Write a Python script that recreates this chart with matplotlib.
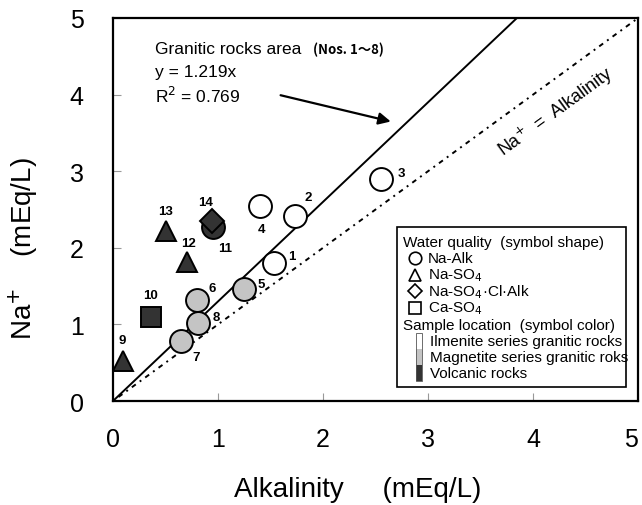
import numpy as np
import matplotlib.pyplot as plt
from matplotlib.patches import Rectangle

plt.rcParams['font.family'] = ['Liberation Sans', 'DejaVu Sans']

# Muestras (Nos. 1-14)
sample_no = [1, 2, 3, 4, 5, 6, 7, 8, 9, 10, 11, 12, 13, 14]
alkalinity = [1.53, 1.73, 2.55, 1.40, 1.25, 0.80, 0.65, 0.81, 0.10, 0.36, 0.95, 0.70, 0.50, 0.94]
sodium = [1.80, 2.42, 2.90, 2.55, 1.46, 1.32, 0.78, 1.02, 0.52, 1.10, 2.27, 1.81, 2.22, 2.35]
shape = ['o', 'o', 'o', 'o', 'o', 'o', 'o', 'o', '^', 's', 'o', '^', '^', 'D']
location = ['ilm', 'ilm', 'ilm', 'ilm', 'mag', 'mag', 'mag', 'mag',
            'vol', 'vol', 'vol', 'vol', 'vol', 'vol']

# recta de regresion (tal como aparece dibujada) y recta 1:1
fit_slope = 1.30
x_line = [0, 5]

colors = {'ilm': 'white', 'mag': '#c4c4c4', 'vol': '#333333'}
sizes = {'o': 16.5, '^': 15, 's': 14.5, 'D': 12}
# desplazamiento de los numeros (pixeles)
label_off = [(18, 7), (13, 19), (21, 6), (1, -23), (17, 5), (15, 12), (15, -16),
             (18, 6), (-1, 21), (0, 22), (12, -21), (2, 19), (0, 20), (-6, 19)]

fig = plt.figure(figsize=(6.42, 5.06), dpi=100)
ax = fig.add_axes([0.176, 0.2055, 0.818, 0.757])

ax.plot(x_line, [fit_slope * v for v in x_line], color='black', lw=1.4, zorder=2)
ax.plot(x_line, x_line, color='black', lw=1.4, ls=(0, (1, 2.5, 2.5, 2.5)), zorder=2)

for i in range(len(sample_no)):
    ax.plot(alkalinity[i], sodium[i], marker=shape[i], ms=sizes[shape[i]],
            mfc=colors[location[i]], mec='black', mew=1.4, ls='none', zorder=3)
    ax.annotate(str(sample_no[i]), (alkalinity[i], sodium[i]), xytext=label_off[i],
                textcoords='offset pixels', ha='center', va='center',
                fontsize=9.5, fontweight='bold', zorder=4)

ax.set_xlim(0, 5)
ax.set_ylim(0, 5)
ax.set_xticks(range(6))
ax.set_yticks(range(6))
ax.tick_params(direction='in', length=6, width=0.8, color='#999999', labelsize=18)
ax.tick_params(axis='x', pad=19)
ax.tick_params(axis='y', pad=21)
ax.get_xticklabels()[-1].set_horizontalalignment('right')
ax.get_xticklabels()[-1].set_x(5.07)
for s in ax.spines.values():
    s.set_linewidth(1.6)

ax.set_xlabel('Alkalinity     (mEq/L)', fontsize=20)
ax.xaxis.set_label_coords(0.465, -0.195)
ax.set_ylabel('Na$^{+}$    (mEq/L)', fontsize=20)
ax.yaxis.set_label_coords(-0.139, 0.40)

# texto de la regresion
ax.text(0.40, 4.6, 'Granitic rocks area', fontsize=12.5, va='center')
ax.text(1.90, 4.6, '(Nos. 1～8)', fontsize=9.5, fontweight='bold', va='center',
        family=['Noto Sans CJK JP', 'DejaVu Sans'])
ax.text(0.40, 4.3, 'y = 1.219x', fontsize=12.5, va='center')
ax.text(0.40, 3.99, 'R$^2$ = 0.769', fontsize=12.5, va='center')
ax.annotate('', xy=(2.67, 3.64), xytext=(1.57, 4.0),
            arrowprops=dict(arrowstyle='-|>', color='black', lw=1.6,
                            mutation_scale=18))
ax.text(4.22, 3.78, 'Na$^{+}$  =  Alkalinity', fontsize=13, rotation=36,
        rotation_mode='anchor', ha='center', va='center')

# leyenda manual
lx0, ly0, lx1, ly1 = 0.541, 0.036, 0.977, 0.455
ax.add_patch(Rectangle((lx0, ly0), lx1 - lx0, ly1 - ly0, transform=ax.transAxes,
                       fc='white', ec='black', lw=1.2, zorder=5))

def ypos(py):
    return (402 - py) / 383

def xpos(px):
    return (px - 113) / 525

ax.text(xpos(403), ypos(243), 'Water quality  (symbol shape)', transform=ax.transAxes,
        fontsize=11, va='center', zorder=6)
legend_rows = [('o', 'Na-Alk', 259, 9),
               ('^', 'Na-SO$_4$', 276, 9),
               ('D', 'Na-SO$_4$·Cl·Alk', 292, 7.5),
               ('s', 'Ca-SO$_4$', 309, 8.5)]
for m, lab, py, ms in legend_rows:
    ax.plot(xpos(415), ypos(py), marker=m, ms=ms, mfc='white', mec='black', mew=1.2,
            transform=ax.transAxes, ls='none', zorder=6, clip_on=False)
    ax.text(xpos(428), ypos(py), lab, transform=ax.transAxes, fontsize=11,
            va='center', zorder=6)
ax.text(xpos(403), ypos(326), 'Sample location  (symbol color)', transform=ax.transAxes,
        fontsize=11, va='center', zorder=6)
color_rows = [('ilm', 'Ilmenite series granitic rocks', 342),
              ('mag', 'Magnetite series granitic roks', 358),
              ('vol', 'Volcanic rocks', 374)]
for c, lab, py in color_rows:
    ax.add_patch(Rectangle((xpos(416), ypos(py + 8)), 6 / 525, 16 / 383,
                           transform=ax.transAxes, fc=colors[c], ec='none', zorder=6))
    ax.text(xpos(430), ypos(py), lab, transform=ax.transAxes, fontsize=11,
            va='center', zorder=6)
ax.add_patch(Rectangle((xpos(416), ypos(382)), 6 / 525, 48 / 383, transform=ax.transAxes,
                       fc='none', ec='#555555', lw=0.6, zorder=7))

fig.savefig('out.png', dpi=100)
